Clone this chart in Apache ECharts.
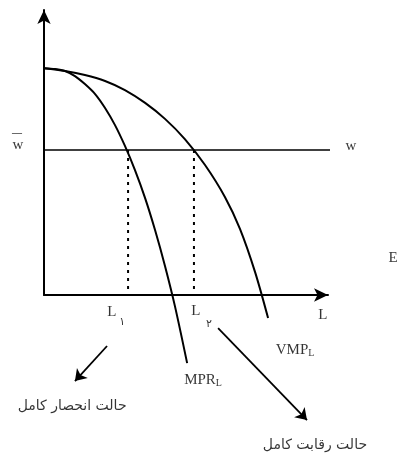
<!DOCTYPE html>
<html>
<head>
<meta charset="utf-8">
<script src="https://cdn.jsdelivr.net/npm/echarts@6/dist/echarts.min.js"></script>
<style>
  html, body { margin: 0; padding: 0; background: #fff; }
  #chart { width: 398px; height: 456px; }
</style>
</head>
<body>
<div id="chart"></div>
<script>
// curve points (L, value)
const mprL = [[0, 79.6], [3.9, 79.3], [7.4, 78.6], [10.9, 76.8], [14.4, 74.0], [18.0, 70.5], [21.5, 65.6], [25.0, 59.6], [28.5, 52.3], [32.0, 43.9], [35.6, 34.0], [39.1, 22.8], [42.6, 10.2], [46.1, -3.9], [50.4, -23.9]];
const vmpL = [[0, 79.6], [7.4, 78.6], [14.4, 77.2], [21.5, 75.1], [28.5, 71.9], [35.6, 67.4], [42.6, 61.8], [49.6, 54.7], [56.7, 45.6], [63.7, 34.4], [69.0, 23.2], [74.3, 8.1], [78.9, -8.1]];
const wage = 50.9;
const wageLineEnd = 103;
const L1 = 29.6;
const L2 = 52.8;

// annotation texts and where they sit (data units)
const notes = [
  { text: "{bar|\u2014}", at: [-9.5, 56.8] },
  { text: "{r|w}", at: [-9.2, 52.6] },
  { text: "{r|w}", at: [108.1, 52.3] },
  { text: "{r|L}", at: [23.9, -6.0] },
  { text: "{sub|\u06F1}", at: [27.5, -9.5] },
  { text: "{r|L}", at: [53.5, -5.6] },
  { text: "{sub|\u06F2}", at: [58.1, -10.2] },
  { text: "{r|L}", at: [98.2, -7.0] },
  { text: "{r|VMP}{sm|L}", at: [88.4, -19.3] },
  { text: "{r|MPR}{sm|L}", at: [56.0, -29.8] },
  { text: "{r|E}", at: [122.9, 13.0] },
  { text: "{fa|حالت انحصار کامل}", at: [9.9, -38.9] },
  { text: "{fa|حالت رقابت کامل}", at: [95.4, -52.6] }
];
const arrows = [
  [[22.2, -17.9], [10.9, -30.2]],
  [[61.3, -11.6], [92.6, -43.9]]
];

const chart = echarts.init(document.getElementById("chart"));
const serif = "Liberation Serif, DejaVu Serif, serif";

chart.setOption({
  animation: false,
  backgroundColor: "#fff",
  grid: { left: 44, right: 70, top: 10, bottom: 161 },
  xAxis: {
    type: "value", min: 0, max: 100,
    axisLine: { lineStyle: { color: "#000", width: 2 }, symbol: ["none", "arrow"], symbolSize: [10, 14] },
    axisTick: { show: false }, axisLabel: { show: false }, splitLine: { show: false }
  },
  yAxis: {
    type: "value", min: 0, max: 100,
    axisLine: { lineStyle: { color: "#000", width: 2 }, symbol: ["none", "arrow"], symbolSize: [10, 14] },
    axisTick: { show: false }, axisLabel: { show: false }, splitLine: { show: false }
  },
  series: [
    {
      type: "line", data: mprL, smooth: 0.3, showSymbol: false, clip: false,
      lineStyle: { color: "#000", width: 2 }
    },
    {
      type: "line", data: vmpL, smooth: 0.3, showSymbol: false, clip: false,
      lineStyle: { color: "#000", width: 2 }
    },
    {
      type: "line", data: [[0, wage], [wageLineEnd, wage]], showSymbol: false, clip: false,
      lineStyle: { color: "#000", width: 1.6 }
    },
    {
      type: "line", data: [[L1, wage], [L1, 0]], showSymbol: false,
      lineStyle: { color: "#000", width: 2, type: [3, 5] }
    },
    {
      type: "line", data: [[L2, wage], [L2, 0]], showSymbol: false,
      lineStyle: { color: "#000", width: 2, type: [3, 5] }
    },
    {
      type: "lines", coordinateSystem: "cartesian2d", clip: false,
      symbol: ["none", "arrow"], symbolSize: 11,
      lineStyle: { color: "#000", width: 1.8, opacity: 1 },
      data: arrows.map(a => ({ coords: a }))
    },
    {
      type: "scatter", symbolSize: 0, clip: false,
      data: notes.map(n => ({ value: n.at, text: n.text })),
      label: {
        show: true, position: "inside", color: "#000",
        formatter: p => p.data.text,
        rich: {
          r: { fontFamily: serif, fontSize: 15, color: "#000" },
          sm: { fontFamily: serif, fontSize: 10, color: "#000", padding: [7, 0, 0, 0] },
          sub: { fontFamily: "DejaVu Sans", fontSize: 11, color: "#000" },
          bar: { fontFamily: serif, fontSize: 10, color: "#000", fontWeight: "bold" },
          fa: { fontFamily: "DejaVu Sans", fontSize: 14, color: "#000" }
        }
      }
    }
  ]
});
</script>
</body>
</html>
